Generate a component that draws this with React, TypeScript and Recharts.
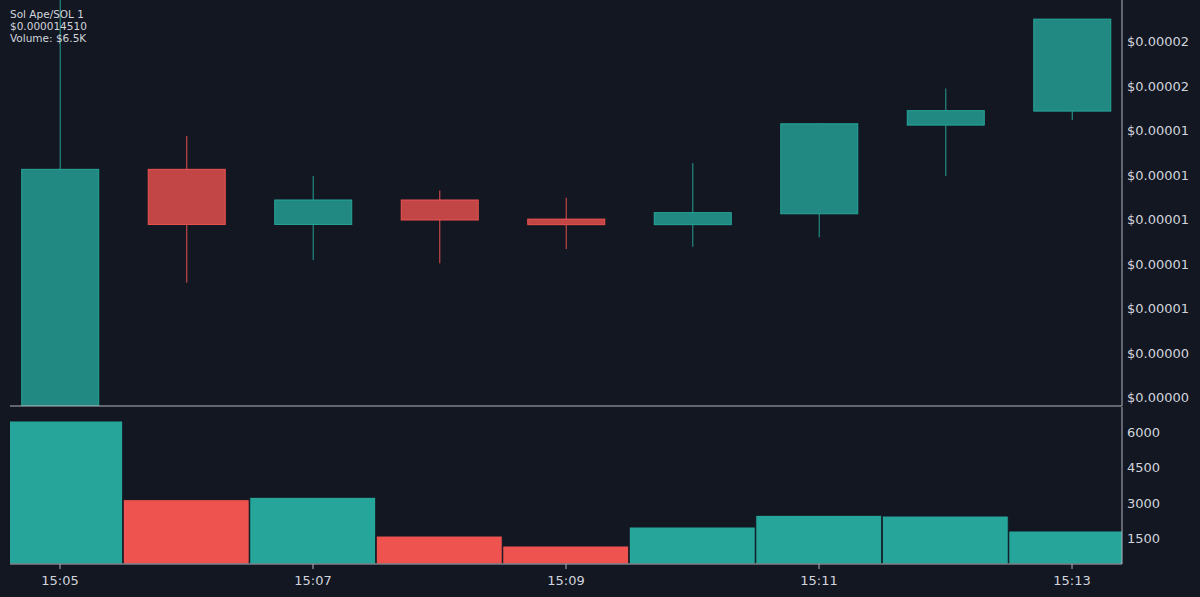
import { ComposedChart, Bar, XAxis, YAxis, Cell } from 'recharts';

const times = ['15:05', '15:06', '15:07', '15:08', '15:09', '15:10', '15:11', '15:12', '15:13'];
const opens = [0.00000161, 0.00001226, 0.00000978, 0.00001088, 0.00001002, 0.00000977, 0.00001026, 0.00001425, 0.00001488];
const highs = [0.00001988, 0.00001376, 0.00001196, 0.00001131, 0.00001098, 0.00001253, 0.00001433, 0.0000159, 0.00001902];
const lows = [0.00000161, 0.00000716, 0.00000818, 0.00000803, 0.00000867, 0.00000878, 0.0000092, 0.00001196, 0.00001448];
const closes = [0.00001226, 0.00000978, 0.00001088, 0.00000998, 0.00000977, 0.00001031, 0.00001431, 0.0000149, 0.00001902];
const volumes = [6500, 3140, 3240, 1585, 1160, 1970, 2470, 2440, 1800];

const priceTicks = [0.000002, 0.000004, 0.000006, 0.000008, 0.00001, 0.000012, 0.000014, 0.000016, 0.000018];
const volumeTicks = [1500, 3000, 4500, 6000];
const timeTicks = [0, 2, 4, 6, 8];

const BG = '#131722';
const UP = '#26a69a';
const DOWN = '#ef5350';
const TEXT = '#d1d4dc';
const LINE = '#b2b5be';
const FONT = 'DejaVu Sans';

const data = times.map((t, i) => ({
  i,
  time: t,
  open: opens[i],
  high: highs[i],
  low: lows[i],
  close: closes[i],
  range: [lows[i], highs[i]],
  volume: volumes[i],
  up: closes[i] >= opens[i],
}));

// candle body + wick, positioned from the [low, high] range bar
const Candle = (props: any) => {
  const { x, y, width, height, payload } = props;
  const { open, close, high, low } = payload;
  const color = close >= open ? UP : DOWN;
  const ratio = high === low ? 0 : height / (high - low);
  const yOf = (v: number) => y + (high - v) * ratio;
  const top = yOf(Math.max(open, close));
  const bottom = yOf(Math.min(open, close));
  const cx = x + width / 2;
  return (
    <g>
      <line x1={cx} x2={cx} y1={y} y2={top} stroke={color} strokeOpacity={0.8} strokeWidth={1.2} />
      <line x1={cx} x2={cx} y1={bottom} y2={y + height} stroke={color} strokeOpacity={0.8} strokeWidth={1.2} />
      <rect
        x={x}
        y={top}
        width={width}
        height={Math.max(1, bottom - top)}
        fill={color}
        fillOpacity={0.8}
        stroke={color}
        strokeWidth={1}
      />
    </g>
  );
};

const tickStyle = { fill: TEXT, fontSize: 13, fontFamily: FONT };

export default function App() {
  return (
    <div
      style={{
        position: 'absolute',
        left: 0,
        top: 0,
        width: 1200,
        height: 597,
        background: BG,
        fontFamily: FONT,
      }}
    >
      <ComposedChart width={1200} height={407} data={data} margin={{ top: 0, right: 0, left: 10, bottom: 0 }}>
        <XAxis
          type="number"
          dataKey="i"
          domain={[-0.395, 8.395]}
          allowDataOverflow
          height={1}
          tick={false}
          tickLine={false}
          axisLine={{ stroke: LINE }}
        />
        <YAxis
          orientation="right"
          type="number"
          width={78}
          domain={[0.00000161, 0.00001988]}
          allowDataOverflow
          ticks={priceTicks}
          tickFormatter={(v: number) => '$' + v.toFixed(5)}
          tick={tickStyle}
          tickLine={false}
          tickSize={3}
          tickMargin={2}
          axisLine={{ stroke: LINE }}
        />
        <Bar dataKey="range" barSize={77} shape={Candle} isAnimationActive={false} />
      </ComposedChart>
      <ComposedChart width={1200} height={190} data={data} margin={{ top: 0, right: 0, left: 10, bottom: 0 }}>
        <XAxis
          type="number"
          dataKey="i"
          domain={[-0.395, 8.395]}
          allowDataOverflow
          height={33}
          ticks={timeTicks}
          tickFormatter={(v: number) => times[v]}
          tick={tickStyle}
          tickSize={5}
          tickMargin={7}
          tickLine={{ stroke: LINE }}
          axisLine={{ stroke: LINE }}
        />
        <YAxis
          orientation="right"
          type="number"
          width={78}
          domain={[390, 7097]}
          allowDataOverflow
          ticks={volumeTicks}
          tick={tickStyle}
          tickLine={false}
          tickSize={3}
          tickMargin={2}
          axisLine={{ stroke: LINE }}
        />
        <Bar dataKey="volume" barSize={126} stroke={BG} strokeWidth={1} isAnimationActive={false}>
          {data.map((d) => (
            <Cell key={d.time} fill={d.up ? UP : DOWN} />
          ))}
        </Bar>
      </ComposedChart>
      <div
        style={{
          position: 'absolute',
          left: 10,
          top: 8,
          color: TEXT,
          fontSize: 10.5,
          lineHeight: '12px',
        }}
      >
        <div>Sol Ape/SOL 1</div>
        <div>$0.000014510</div>
        <div>Volume: $6.5K</div>
      </div>
    </div>
  );
}
